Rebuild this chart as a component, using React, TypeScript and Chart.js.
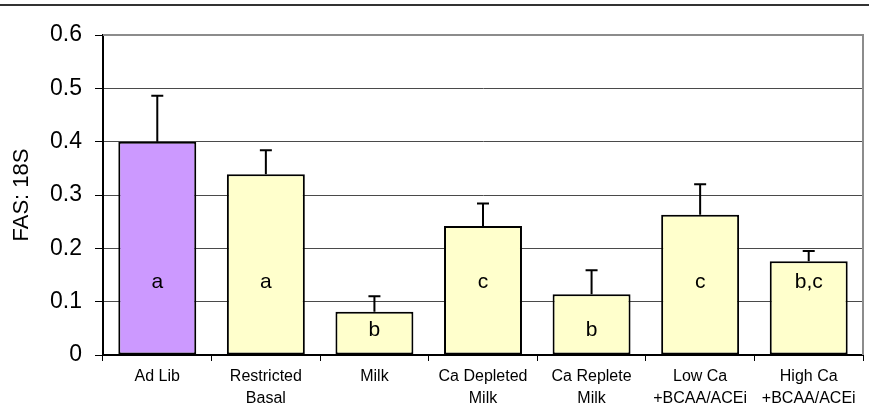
import React, { useEffect, useRef } from "react";
import { Chart, registerables } from "chart.js";

Chart.register(...registerables);

const categories: string[][] = [
  ["Ad Lib"],
  ["Restricted", "Basal"],
  ["Milk"],
  ["Ca Depleted", "Milk"],
  ["Ca Replete", "Milk"],
  ["Low Ca", "+BCAA/ACEi"],
  ["High Ca", "+BCAA/ACEi"],
];
const values: number[] = [0.4, 0.339, 0.081, 0.242, 0.114, 0.263, 0.176];
const upperErrors: number[] = [0.086, 0.045, 0.029, 0.042, 0.045, 0.057, 0.019];
const letters: string[] = ["a", "a", "b", "c", "b", "c", "b,c"];
const yTicks: number[] = [0, 0.1, 0.2, 0.3, 0.4, 0.5, 0.6];

const FONT = "'Liberation Sans', Arial, sans-serif";

const decorPlugin = {
  id: "decor",
  beforeDraw(chart: any) {
    const ctx = chart.ctx;
    ctx.save();
    ctx.fillStyle = "#ffffff";
    ctx.fillRect(0, 0, chart.width, chart.height);
    ctx.strokeStyle = "#333333";
    ctx.lineWidth = 2;
    ctx.beginPath();
    ctx.moveTo(0, 5);
    ctx.lineTo(chart.width, 5);
    ctx.stroke();
    ctx.restore();
  },
  afterDatasetsDraw(chart: any) {
    const ctx = chart.ctx;
    const meta = chart.getDatasetMeta(0);
    const yScale = chart.scales.y;
    const area = chart.chartArea;
    ctx.save();
    ctx.strokeStyle = "#8c8c8c";
    ctx.lineWidth = 2;
    ctx.beginPath();
    ctx.moveTo(area.left, area.top);
    ctx.lineTo(area.right, area.top);
    ctx.lineTo(area.right, area.bottom);
    ctx.stroke();
    ctx.strokeStyle = "#000000";
    ctx.lineWidth = 2;
    meta.data.forEach((bar: any, i: number) => {
      const x = bar.x;
      const yTop = yScale.getPixelForValue(values[i] + upperErrors[i]);
      const yBar = yScale.getPixelForValue(values[i]);
      ctx.beginPath();
      ctx.moveTo(x, yBar);
      ctx.lineTo(x, yTop);
      ctx.moveTo(x - 6, yTop);
      ctx.lineTo(x + 6, yTop);
      ctx.stroke();
    });
    ctx.fillStyle = "#000000";
    ctx.font = `21px ${FONT}`;
    ctx.textAlign = "center";
    ctx.textBaseline = "middle";
    meta.data.forEach((bar: any, i: number) => {
      const level = values[i] > 0.15 ? 0.137 : 0.047;
      ctx.fillText(letters[i], bar.x, yScale.getPixelForValue(level));
    });
    ctx.restore();
  },
};

export default function App() {
  const ref = useRef<HTMLCanvasElement | null>(null);
  useEffect(() => {
    if (!ref.current) return;
    const chart = new Chart(ref.current, {
      type: "bar",
      data: {
        labels: categories,
        datasets: [
          {
            data: values,
            backgroundColor: values.map((_, i) => (i === 0 ? "#cc99ff" : "#ffffcc")),
            borderColor: "#000000",
            borderWidth: 2,
            borderSkipped: false,
            categoryPercentage: 1,
            barPercentage: 0.718,
          },
        ],
      },
      options: {
        responsive: false,
        animation: false,
        layout: { padding: { top: 35, right: 6, left: 0, bottom: 0 } },
        plugins: { legend: { display: false }, tooltip: { enabled: false } },
        scales: {
          x: {
            grid: {
              offset: true,
              drawOnChartArea: false,
              drawTicks: true,
              tickLength: 6,
              color: "#000000",
              tickColor: "#000000",
            },
            border: { color: "#000000", width: 2 },
            ticks: {
              autoSkip: false,
              maxRotation: 0,
              color: "#000000",
              padding: 5,
              font: { family: FONT, size: 16, lineHeight: 1.35 },
            },
            afterFit(scale: any) {
              scale.height = 51;
            },
          },
          y: {
            min: 0,
            max: 0.6,
            afterBuildTicks(scale: any) {
              scale.ticks = yTicks.map((v) => ({ value: v }));
            },
            grid: {
              color: "#4a4a4a",
              tickColor: "#000000",
              tickLength: 8,
              lineWidth: 1,
            },
            border: { color: "#000000", width: 2 },
            ticks: {
              color: "#000000",
              padding: 13,
              font: { family: FONT, size: 23 },
              callback: (v: any) => (Number(v) === 0 ? "0" : Number(v).toFixed(1)),
            },
            title: {
              display: true,
              text: "FAS: 18S",
              color: "#000000",
              font: { family: FONT, size: 22 },
              padding: { top: 9, bottom: 0 },
            },
            afterFit(scale: any) {
              scale.width = 103;
            },
          },
        },
      },
      plugins: [decorPlugin],
    });
    return () => chart.destroy();
  }, []);
  return (
    <div style={{ position: "absolute", left: 0, top: 0, width: 869, height: 406, background: "#fff" }}>
      <canvas ref={ref} width={869} height={406} style={{ display: "block" }} />
    </div>
  );
}
